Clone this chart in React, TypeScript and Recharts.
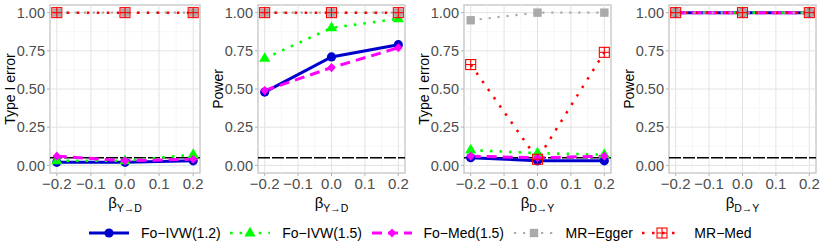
import React from 'react';
import { LineChart, Line, XAxis, YAxis, ReferenceLine, ReferenceArea } from 'recharts';

const betas = [-0.2, 0, 0.2];
const xTicks = [-0.2, -0.1, 0, 0.1, 0.2];
const yTicks = [0, 0.25, 0.5, 0.75, 1];

// panel 1: type I error, beta Y->D
const t1Ivw12 = [0.02, 0.02, 0.03];
const t1Ivw15 = [0.03, 0.03, 0.07];
const t1Med15 = [0.06, 0.03, 0.04];
const t1Egger = [1, 1, 1];
const t1MrMed = [1, 1, 1];

// panel 2: power, beta Y->D
const p1Ivw12 = [0.48, 0.71, 0.79];
const p1Ivw15 = [0.7, 0.9, 0.96];
const p1Med15 = [0.49, 0.64, 0.77];
const p1Egger = [1, 1, 1];
const p1MrMed = [1, 1, 1];

// panel 3: type I error, beta D->Y
const t2Ivw12 = [0.05, 0.03, 0.03];
const t2Ivw15 = [0.1, 0.08, 0.07];
const t2Med15 = [0.06, 0.05, 0.06];
const t2Egger = [0.95, 1, 1];
const t2MrMed = [0.66, 0.04, 0.74];

// panel 4: power, beta D->Y
const p2Ivw12 = [1, 1, 1];
const p2Ivw15 = [1, 1, 1];
const p2Med15 = [1, 1, 1];
const p2Egger = [1, 1, 1];
const p2MrMed = [1, 1, 1];

const seriesNames = ['Fo\u2212IVW(1.2)', 'Fo\u2212IVW(1.5)', 'Fo\u2212Med(1.5)', 'MR\u2212Egger', 'MR\u2212Med'];

const makeRows = (a: number[], b: number[], c: number[], d: number[], e: number[]) =>
  betas.map((beta, i) => ({ beta, ivw12: a[i], ivw15: b[i], med15: c[i], egger: d[i], mrmed: e[i] }));

const FONT = '"Liberation Sans", Arial, Helvetica, sans-serif';

type Marker = (cx: number, cy: number, key?: any) => React.ReactElement;

const circle: Marker = (cx, cy, key) => <circle key={key} cx={cx} cy={cy} r={4.6} fill="#0000CD" />;
const triangle: Marker = (cx, cy, key) => (
  <polygon key={key} points={`${cx},${cy - 6.3} ${cx - 5.6},${cy + 3.4} ${cx + 5.6},${cy + 3.4}`} fill="#00FF00" />
);
const diamond: Marker = (cx, cy, key) => (
  <polygon key={key} points={`${cx},${cy - 4.6} ${cx + 4.2},${cy} ${cx},${cy + 4.6} ${cx - 4.2},${cy}`} fill="#FF00FF" />
);
const square: Marker = (cx, cy, key) => <rect key={key} x={cx - 4.2} y={cy - 4.2} width={8.4} height={8.4} fill="#AAAAAA" />;
const squarePlus: Marker = (cx, cy, key) => (
  <g key={key} stroke="#FF0000" strokeWidth={1.1} fill="none">
    <rect x={cx - 5} y={cy - 5} width={10} height={10} />
    <line x1={cx - 5} y1={cy} x2={cx + 5} y2={cy} />
    <line x1={cx} y1={cy - 5} x2={cx} y2={cy + 5} />
  </g>
);

const series = [
  { key: 'ivw12', color: '#0000CD', width: 3, dash: undefined as string | undefined, marker: circle },
  { key: 'ivw15', color: '#00FF00', width: 2.6, dash: '2.6 7', marker: triangle },
  { key: 'med15', color: '#FF00FF', width: 3, dash: '10 6', marker: diamond },
  { key: 'egger', color: '#AAAAAA', width: 2.2, dash: '2.2 6.8', marker: square },
  { key: 'mrmed', color: '#FF0000', width: 2.5, dash: '2.5 7.5', marker: squarePlus },
];

const fmtX = (v: number) => (v < 0 ? '\u2212' + Math.abs(v).toFixed(1) : v.toFixed(1));

const panels = [
  { plotLeft: 50, plotWidth: 150, yTitle: 'Type I error', sub: 'Y\u2192D', rows: makeRows(t1Ivw12, t1Ivw15, t1Med15, t1Egger, t1MrMed) },
  { plotLeft: 258, plotWidth: 147, yTitle: 'Power', sub: 'Y\u2192D', rows: makeRows(p1Ivw12, p1Ivw15, p1Med15, p1Egger, p1MrMed) },
  { plotLeft: 464, plotWidth: 147, yTitle: 'Type I error', sub: 'D\u2192Y', rows: makeRows(t2Ivw12, t2Ivw15, t2Med15, t2Egger, t2MrMed) },
  { plotLeft: 669, plotWidth: 147, yTitle: 'Power', sub: 'D\u2192Y', rows: makeRows(p2Ivw12, p2Ivw15, p2Med15, p2Egger, p2MrMed) },
];

const Panel = ({ p }: { p: (typeof panels)[number] }) => {
  const yw = 52;
  const left = p.plotLeft - yw;
  const xTitle = (props: any) => {
    const vb = props.viewBox || { x: yw, y: 173, width: p.plotWidth };
    return (
      <text x={vb.x + vb.width / 2} y={vb.y + 35} textAnchor="middle" fontSize={15} fontFamily={FONT} fill="#000">
        <tspan>β</tspan>
        <tspan fontSize={10.5} dy={4}>{p.sub}</tspan>
      </text>
    );
  };
  const yTitle = (props: any) => {
    const vb = props.viewBox || { x: 0, y: 5, width: yw, height: 168 };
    const x = vb.x + vb.width - 40;
    const y = vb.y + vb.height / 2;
    return (
      <text x={x} y={y} transform={`rotate(-90 ${x} ${y})`} textAnchor="middle" dominantBaseline="central" fontSize={14} fontFamily={FONT} fill="#000">
        {p.yTitle}
      </text>
    );
  };
  return (
    <div style={{ position: 'absolute', left, top: 0 }}>
      <LineChart width={yw + p.plotWidth + 5} height={215} data={p.rows} margin={{ top: 5, right: 5, left: 0, bottom: 0 }}>
        <XAxis
          dataKey="beta"
          type="number"
          domain={[-0.22, 0.22]}
          allowDataOverflow
          ticks={xTicks}
          interval={0}
          tickFormatter={fmtX}
          tick={{ fill: '#4d4d4d', fontSize: 15, fontFamily: FONT }}
          tickLine={{ stroke: '#b3b3b3' }}
          axisLine={false}
          tickSize={3}
          tickMargin={2}
          height={42}
          label={{ content: xTitle }}
        />
        <YAxis
          type="number"
          domain={[-0.05, 1.05]}
          allowDataOverflow
          ticks={yTicks}
          interval={0}
          tickFormatter={(v: number) => v.toFixed(2)}
          tick={{ fill: '#4d4d4d', fontSize: 14.5, fontFamily: FONT }}
          tickLine={{ stroke: '#b3b3b3' }}
          axisLine={false}
          tickSize={3}
          tickMargin={2}
          width={yw}
          label={{ content: yTitle }}
        />
        {[-0.15, -0.05, 0.05, 0.15].map((v) => (
          <ReferenceLine key={'xm' + v} x={v} stroke="#f2f2f2" strokeWidth={0.7} />
        ))}
        {[0.125, 0.375, 0.625, 0.875].map((v) => (
          <ReferenceLine key={'ym' + v} y={v} stroke="#f2f2f2" strokeWidth={0.7} />
        ))}
        {xTicks.map((v) => (
          <ReferenceLine key={'xM' + v} x={v} stroke="#e3e3e3" strokeWidth={1} />
        ))}
        {yTicks.map((v) => (
          <ReferenceLine key={'yM' + v} y={v} stroke="#e3e3e3" strokeWidth={1} />
        ))}
        <ReferenceLine y={0.05} stroke="#000" strokeWidth={1.5} strokeDasharray="12 2" />
        {series.map((s) => (
          <Line
            key={s.key}
            dataKey={s.key}
            stroke={s.color}
            strokeWidth={s.width}
            strokeDasharray={s.dash}
            dot={(d: any) => s.marker(d.cx, d.cy, d.index)}
            activeDot={false}
            isAnimationActive={false}
          />
        ))}
        <ReferenceArea x1={-0.22} x2={0.22} y1={-0.05} y2={1.05} fill="none" stroke="#cccccc" strokeWidth={1.5} ifOverflow="visible" />
      </LineChart>
    </div>
  );
};

const LegendKey = ({ idx }: { idx: number }) => {
  const s = series[idx];
  return (
    <div style={{ display: 'flex', alignItems: 'center', marginRight: 9.5 }}>
      <svg width={40} height={18}>
        <line x1={0} y1={9} x2={40} y2={9} stroke={s.color} strokeWidth={s.width} strokeDasharray={s.dash} />
        {s.marker(20, 9)}
      </svg>
      <span style={{ marginLeft: 12, fontSize: 14, fontFamily: FONT, color: '#000', whiteSpace: 'nowrap' }}>{seriesNames[idx]}</span>
    </div>
  );
};

export default function App() {
  return (
    <div style={{ position: 'absolute', left: 0, top: 0, width: 822, height: 245, background: '#fff' }}>
      {panels.map((p, i) => (
        <Panel key={i} p={p} />
      ))}
      <div style={{ position: 'absolute', left: 89, top: 224, display: 'flex', alignItems: 'center', height: 18 }}>
        {seriesNames.map((_, i) => (
          <LegendKey key={i} idx={i} />
        ))}
      </div>
    </div>
  );
}
